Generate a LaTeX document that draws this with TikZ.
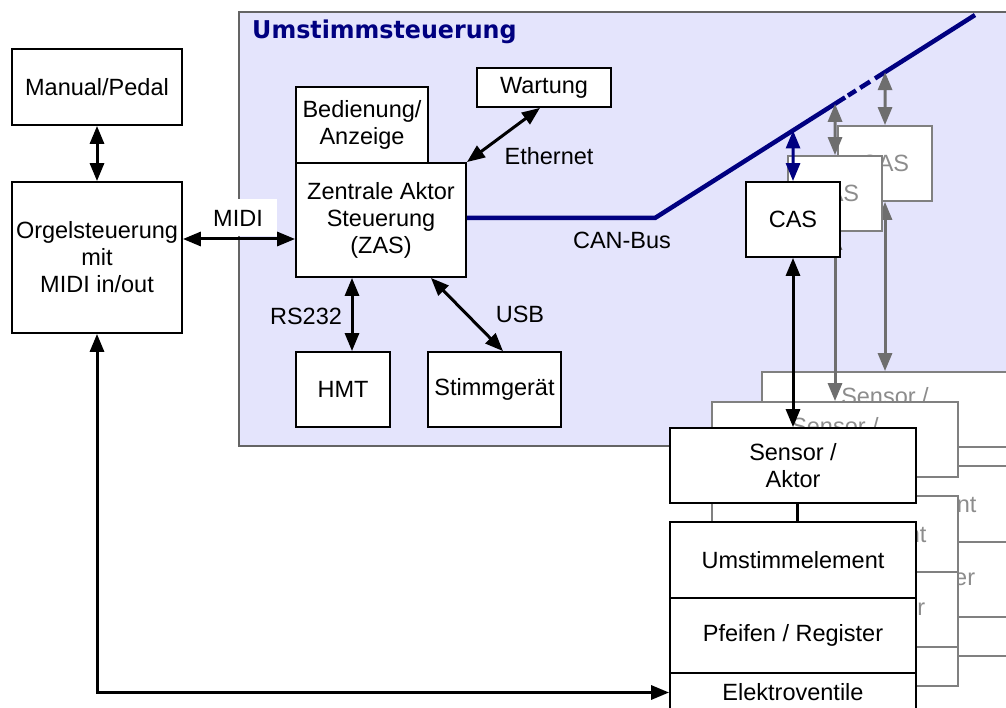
\documentclass[tikz,border=0pt]{standalone}
\usepackage{fontspec}
\setmainfont{Liberation Sans}
\newfontfamily\titlefont{DejaVu Sans}
\usetikzlibrary{arrows.meta,calc}
\definecolor{lav}{RGB}{228,228,252}
\definecolor{navyb}{RGB}{0,0,128}
\definecolor{gbox}{RGB}{128,128,128}
\definecolor{garrow}{RGB}{110,110,110}
\definecolor{gtext}{RGB}{140,140,140}
\definecolor{frameline}{RGB}{100,100,100}
\newcommand\fs{\fontsize{23.5}{27}\selectfont}
\tikzset{
  box/.style={draw=black, line width=1.8pt, fill=white, inner sep=0pt, align=center, font=\fs},
  sbox/.style 2 args={draw=#1, text=#2, line width=1.8pt, fill=white, inner sep=0pt, align=center, font=\fs},
  dbl/.style={line width=3pt, {Triangle[length=18pt,width=14pt]}-{Triangle[length=18pt,width=14pt]}},
  lbl/.style={font=\fs, inner sep=0pt},
}
% #1 suffix, #2 shift, #3 box colour, #4 text colour, #5 bus arrow colour, #6 link arrow colour
\newcommand\drawstack[6]{%
\begin{scope}[shift={#2}]
  \node[sbox={#3}{#4}, minimum width=94, minimum height=75] (cas#1) at (793,219.5) {CAS};
  \node[sbox={#3}{#4}, minimum width=246, minimum height=75] (sen#1) at (793,465.5) {Sensor /\\Aktor};
  \draw[line width=3pt, draw=#6] ([xshift=4pt]sen#1.south) -- ++(0,19) coordinate (lk#1);
  \node[sbox={#3}{#4}, minimum width=246, minimum height=76] (ums#1) at (793,560) {Umstimmelement};
  \node[sbox={#3}{#4}, minimum width=246, minimum height=75] (pfe#1) at (793,635.5) {Pfeifen / Register};
  \node[sbox={#3}{#4}, minimum width=246, minimum height=39] (ele#1) at (793,692.5) {Elektroventile};
  \draw[dbl, draw=#6, fill=#6] (cas#1.south) -- (sen#1.north);
  \draw[dbl, draw=#5, fill=#5] (cas#1.north) -- (intersection of busB--busC and cas#1.north--cas#1.south);
\end{scope}}
\begin{document}
\begin{tikzpicture}[x=1pt,y=-1pt]
\clip (0,0) rectangle (1006,708);
\fill[white] (0,0) rectangle (1006,708);
% frame
\path[fill=lav, draw=frameline, line width=1.3pt] (239,12) rectangle (1030,446);
\node[anchor=base west, inner sep=0pt, text=navyb] (title) at (252,39)
  {\scalebox{0.97}[1]{\titlefont\bfseries\fontsize{24.5}{28}\selectfont Umstimmsteuerung}};
% left nodes
\node[box, minimum width=170, minimum height=76] (man) at (97,87) {Manual/Pedal};
\node[box, minimum width=170, minimum height=151] (org) at (97,257.5) {Orgelsteuerung\\mit\\MIDI in/out};
\node[box, minimum width=132, minimum height=76] (bed) at (362,125) {Bedienung/\\Anzeige};
\node[box, minimum width=170, minimum height=114] (zas) at (381,220) {Zentrale Aktor\\Steuerung\\(ZAS)};
\node[box, minimum width=134, minimum height=39] (wart) at (544,87.5) {Wartung};
\node[box, minimum width=94, minimum height=75] (hmt) at (343,389.5) {HMT};
\node[box, minimum width=133, minimum height=75] (stim) at (494.5,389.5) {Stimmgerät};
% CAN bus
\coordinate (busB) at (655,218);
\coordinate (busC) at (975,15);
\draw[navyb, line width=4.5pt] (zas.east |- busB) -- (busB) -- ($(busB)!0.594!(busC)$);
\draw[navyb, line width=4.5pt] ($(busB)!0.603!(busC)$) -- ($(busB)!0.628!(busC)$);
\draw[navyb, line width=4.5pt] ($(busB)!0.641!(busC)$) -- ($(busB)!0.672!(busC)$);
\draw[navyb, line width=4.5pt] ($(busB)!0.6875!(busC)$) -- (busC);
% labels
\node[lbl] (eth) at (549,156) {Ethernet};
\node[lbl] (can) at (622,240) {CAN-Bus};
\node[lbl] (rs) at (306,316) {RS232};
\node[lbl] (usb) at (520,314) {USB};
\node[fill=white, inner sep=0pt, minimum width=78, minimum height=37, font=\fs] (midi) at (238,218) {MIDI};
% connectors
\draw[dbl] (man.south) -- (org.north);
\draw[dbl] ([yshift=18.5pt]org.east) -- ([yshift=18.5pt]org.east -| zas.west);
\draw[dbl] (zas.north east) -- ([xshift=-4pt]wart.south);
\draw[dbl] ([xshift=9pt]hmt.north |- zas.south) -- ([xshift=9pt]hmt.north);
\draw[dbl] ([xshift=-36pt]zas.south east) -- ([xshift=8.5pt]stim.north);
% stacks
\drawstack{c}{(92,-56)}{gbox}{gtext}{garrow}{garrow}
\drawstack{b}{(42,-26)}{gbox}{gtext}{garrow}{garrow}
\drawstack{a}{(0,0)}{black}{black}{navyb}{black}
\draw[dbl] (org.south) -- (org.south |- elea.west) -- (elea.west);
\end{tikzpicture}
\end{document}
